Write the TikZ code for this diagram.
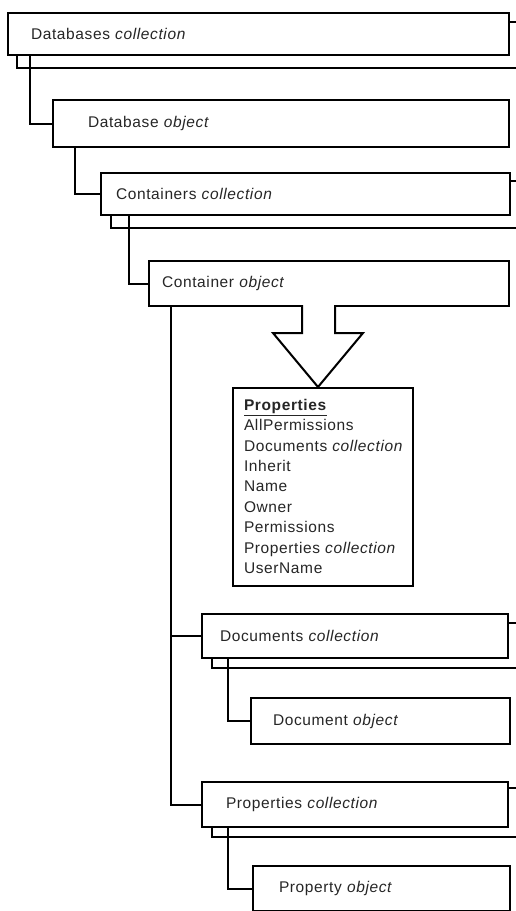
\documentclass[tikz,border=0pt]{standalone}
\usepackage{fontspec}
\setmainfont{Liberation Sans}[LetterSpace=4]
\begin{document}
\begin{tikzpicture}[x=1pt,y=-1pt,
  line width=2pt,
  bx/.style={draw, fill=white, anchor=north west, inner sep=0pt, align=left,
             font=\fontsize{15.5}{20.4}\selectfont, text=black!85},
  shadowbox/.style={draw, fill=white},
  conn/.style={draw}
]
\clip (0,0) rectangle (516,911);
\fill[white] (0,0) rectangle (516,911);

% shadow boxes of collections
\draw[shadowbox] (17,22) rectangle (520,68);
\draw[shadowbox] (111,181) rectangle (520,228);
\draw[shadowbox] (212,623) rectangle (520,668);
\draw[shadowbox] (212,788) rectangle (520,837);

% boxes
\node[bx, inner xsep=23pt, text width=455pt, minimum height=42pt] (dbs) at (7,12) {Databases \textit{collection}};
\node[bx, inner xsep=35pt, text width=386pt, minimum height=47pt] (dbo) at (52,99) {Database \textit{object}};
\node[bx, inner xsep=15pt, text width=379pt, minimum height=42pt] (ccol) at (100,172) {Containers \textit{collection}};
\node[bx, inner xsep=13pt, text width=334pt, minimum height=45pt] (cobj) at (148,260) {Container \textit{object}};
\node[bx, inner xsep=18pt, text width=270pt, minimum height=44pt] (dcol) at (201,613) {Documents \textit{collection}};
\node[bx, inner xsep=22pt, text width=215pt, minimum height=46pt] (dobj) at (250,697) {Document \textit{object}};
\node[bx, inner xsep=24pt, text width=258pt, minimum height=45pt] (pcol) at (201,781) {Properties \textit{collection}};
\node[bx, inner xsep=26pt, text width=205pt, minimum height=45pt] (pobj) at (252,865) {Property \textit{object}};

% properties box
\node[draw, fill=white, anchor=north west, minimum width=180pt, minimum height=198pt, inner sep=0pt] (props) at (232,387) {};
\node[anchor=north west, inner sep=0pt, align=left, font=\fontsize{15.5}{20.4}\selectfont, text=black!85] (plist) at (243,398)
 {\underline{\textbf{Properties}}\\
  AllPermissions\\
  Documents \textit{collection}\\
  Inherit\\
  Name\\
  Owner\\
  Permissions\\
  Properties \textit{collection}\\
  UserName};

% block arrow
\coordinate (tip) at (318,387);
\fill[white] (302,305) -- (302,333) -- (273,333) -- (tip) -- (363,333) -- (335,333) -- (335,305) -- cycle;
\draw[line join=miter] (302,305) -- (302,333) -- (273,333) -- (tip) -- (363,333) -- (335,333) -- (335,305);

% connectors
\draw[conn] ([xshift=23pt]dbs.south west) |- (dbo.west);
\draw[conn] ([xshift=23pt]dbo.south west) |- (ccol.west);
\draw[conn] ([xshift=29pt]ccol.south west) |- (cobj.west);
\coordinate (trunk) at ([xshift=23pt]cobj.south west);
\draw[conn] (trunk) |- (pcol.west);
\draw[conn] (dcol.west) -- (dcol.west -| trunk);
\draw[conn] ([xshift=27pt]dcol.south west) |- (dobj.west);
\draw[conn] ([xshift=27pt]pcol.south west) |- (pobj.west);
\end{tikzpicture}
\end{document}
